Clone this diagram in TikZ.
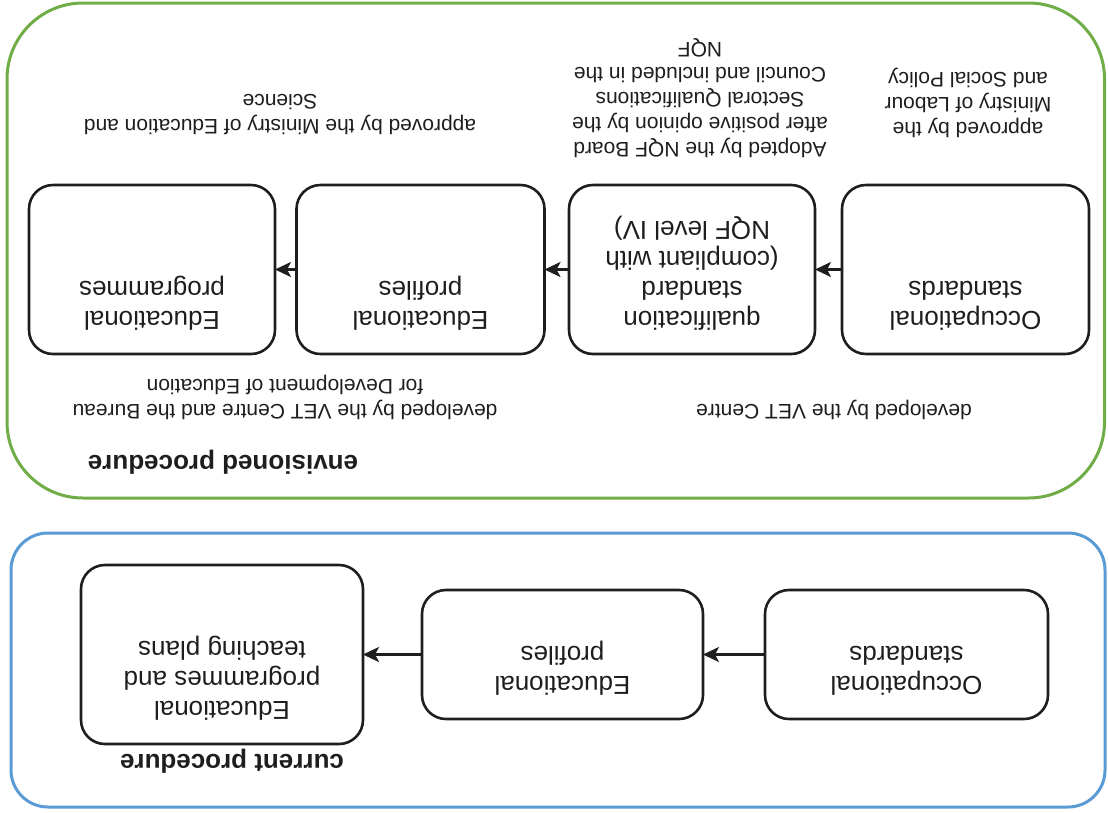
\documentclass[tikz,border=0pt]{standalone}
\usepackage{fontspec}
\setmainfont{Liberation Sans}
\usepackage{graphicx}
\usetikzlibrary{arrows.meta}
\definecolor{grn}{HTML}{70AD47}
\definecolor{blu}{HTML}{5B9BD5}
\definecolor{ink}{HTML}{1E1E1E}
\newcommand{\bxt}[3]{\rotatebox[origin=c]{180}{\parbox[c][#2][t]{#1}{\centering\vspace*{24pt}#3\par}}}
\begin{document}
\begin{tikzpicture}[x=1pt,y=-1pt,
  stepbox/.style={draw=ink, line width=2.6pt, rounded corners=24pt, inner sep=0pt, outer sep=0pt, fill=white, font=\fontsize{26}{30}\selectfont, text=ink},
  note/.style={rotate=180, align=center, font=\fontsize{21}{25}\selectfont, text=ink, inner sep=0pt},
  ttl/.style={rotate=180, font=\fontsize{26}{30}\selectfont\bfseries, text=ink, inner sep=0pt},
  flow/.style={draw=ink, line width=2.6pt, -{Stealth[length=16pt,width=15pt,inset=4pt]}}
]
\useasboundingbox (0,0) rectangle (1108,812);
% frames
\draw[grn, line width=3pt, rounded corners=76pt] (7,3) rectangle (1104.5,498);
\draw[blu, line width=3pt, rounded corners=37pt] (11,533) rectangle (1105,807);

% envisioned procedure
\node[stepbox] (eA) at (152,269.5) {\bxt{246pt}{169pt}{Educational\\programmes}};
\node[stepbox] (eB) at (420.5,269.5) {\bxt{248pt}{169pt}{Educational\\profiles}};
\node[stepbox] (eC) at (692,269.5) {\bxt{246pt}{169pt}{qualification\\standard\\(compliant with\\NQF level IV)}};
\node[stepbox] (eD) at (965.5,269.5) {\bxt{247pt}{169pt}{Occupational\\standards}};
\draw[flow] (eD.west) -- (eC.east);
\draw[flow] (eC.west) -- (eB.east);
\draw[flow] (eB.west) -- (eA.east);

\node[note] (n1) at (968,103) {approved by the\\Ministry of Labour\\and Social Policy};
\node[note] (n2) at (700,98) {Adopted by the NQF Board\\after positive opinion by the\\Sectoral Qualifications\\Council and included in the\\NQF};
\node[note] (n3) at (280,115) {approved by the Ministry of Education and\\Science};
\node[note] (n4) at (834,410) {developed by the VET Centre};
\node[note] (n5) at (285,397.5) {developed by the VET Centre and the Bureau\\for Development of Education};
\node[ttl] (t1) at (223,462) {envisioned procedure};

% current procedure
\node[stepbox] (c1) at (906.5,654.5) {\bxt{283pt}{129pt}{Occupational\\standards}};
\node[stepbox] (c2) at (562.5,654.5) {\bxt{281pt}{129pt}{Educational\\profiles}};
\node[stepbox] (c3) at (222,654.5) {\bxt{282pt}{179pt}{Educational\\programmes and\\teaching plans}};
\draw[flow] (c1.west) -- (c2.east);
\draw[flow] (c2.west) -- (c3.east);
\node[ttl] (t2) at (232,761) {current procedure};
\end{tikzpicture}
\end{document}
